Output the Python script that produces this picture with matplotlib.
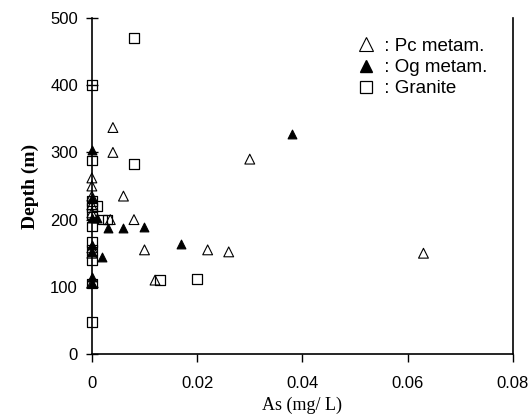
import matplotlib.pyplot as plt
from matplotlib.lines import Line2D

# As concentration (mg/L) and well depth (m)
pc_as = [0, 0, 0, 0, 0, 0, 0, 0, 0.0035, 0.004, 0.004, 0.006, 0.008, 0.010, 0.012, 0.022, 0.026, 0.030, 0.063]
pc_depth = [262, 250, 235, 222, 210, 158, 150, 105, 200, 337, 300, 235, 200, 155, 110, 155, 152, 290, 150]

og_as = [0, 0, 0, 0, 0, 0, 0, 0.001, 0.002, 0.003, 0.006, 0.010, 0.017, 0.038]
og_depth = [303, 232, 203, 162, 152, 115, 105, 203, 145, 187, 187, 189, 164, 327]

gr_as = [0, 0, 0, 0, 0, 0, 0, 0, 0, 0, 0, 0.001, 0.002, 0.003, 0.008, 0.008, 0.013, 0.020]
gr_depth = [400, 288, 228, 218, 208, 190, 167, 155, 140, 105, 48, 220, 200, 200, 470, 283, 110, 112]

labels = [' : Pc metam.', ' : Og metam.', ' : Granite']

fig = plt.figure(figsize=(5.31, 4.18), dpi=100)
ax = fig.add_axes([0.173, 0.153, 0.793, 0.804])

ax.scatter(gr_as, gr_depth, marker='s', s=48, facecolors='none', edgecolors='black',
           linewidths=0.9, zorder=3, clip_on=False)
ax.scatter(pc_as, pc_depth, marker='^', s=50, facecolors='none', edgecolors='black',
           linewidths=0.8, zorder=3, clip_on=False)
ax.scatter(og_as, og_depth, marker='^', s=40, facecolors='black', edgecolors='black',
           linewidths=0.8, zorder=3, clip_on=False)

ax.set_xlim(0, 0.08)
ax.set_ylim(0, 500)
ax.set_xticks([0, 0.02, 0.04, 0.06, 0.08])
ax.set_xticklabels(['0', '0.02', '0.04', '0.06', '0.08'])
ax.set_yticks([0, 100, 200, 300, 400, 500])

ax.spines['top'].set_visible(False)
for s in ['left', 'bottom', 'right']:
    ax.spines[s].set_linewidth(1.2)
ax.tick_params(axis='y', direction='inout', length=8, width=1, labelsize=12, pad=6)
ax.tick_params(axis='x', direction='out', length=6, width=1, labelsize=12, pad=10)
for t in ax.get_xticklabels() + ax.get_yticklabels():
    t.set_fontfamily('Liberation Sans')

ax.set_xlabel('As (mg/ L)', family='Liberation Serif', fontsize=13, labelpad=4)
ax.set_ylabel('Depth (m)', family='Liberation Serif', fontsize=14, fontweight='bold', labelpad=8)

handles = [
    Line2D([], [], ls='none', marker='^', ms=10, mfc='none', mec='black', mew=0.8),
    Line2D([], [], ls='none', marker='^', ms=9, mfc='black', mec='black'),
    Line2D([], [], ls='none', marker='s', ms=9, mfc='none', mec='black', mew=0.9),
]
ax.legend(handles, labels, loc='upper right', bbox_to_anchor=(0.97, 0.98), frameon=False,
          prop={'family': 'Liberation Sans', 'size': 13.5}, handlelength=1.0,
          handletextpad=0.2, labelspacing=0.22, borderaxespad=0.3)

fig.savefig('out.png', dpi=100)
